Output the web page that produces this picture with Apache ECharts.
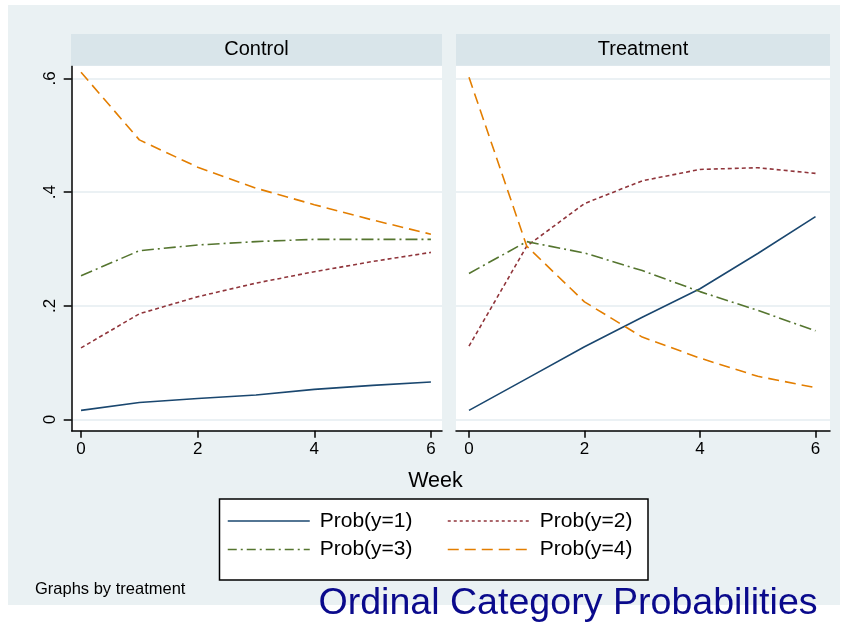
<!DOCTYPE html>
<html><head><meta charset="utf-8">
<script src="https://cdn.jsdelivr.net/npm/echarts@6/dist/echarts.min.js"></script>
<style>html,body{margin:0;padding:0;background:#fff}#c{width:846px;height:629px}</style>
</head><body><div id="c"></div>
<script>
// ---- data ----
const weeks = [0, 1, 2, 3, 4, 5, 6];
const panelTitles = ['Control', 'Treatment'];
const seriesNames = ['Prob(y=1)', 'Prob(y=2)', 'Prob(y=3)', 'Prob(y=4)'];
const controlP1 = [0.016, 0.030, 0.037, 0.043, 0.053, 0.060, 0.066];
const controlP2 = [0.126, 0.186, 0.216, 0.240, 0.260, 0.278, 0.294];
const controlP3 = [0.253, 0.297, 0.307, 0.313, 0.317, 0.317, 0.317];
const controlP4 = [0.611, 0.492, 0.444, 0.407, 0.378, 0.351, 0.326];
const treatP1 = [0.016, 0.072, 0.128, 0.180, 0.230, 0.292, 0.357];
const treatP2 = [0.129, 0.305, 0.380, 0.420, 0.440, 0.443, 0.433];
const treatP3 = [0.257, 0.313, 0.293, 0.262, 0.225, 0.192, 0.156];
const treatP4 = [0.602, 0.305, 0.207, 0.145, 0.108, 0.076, 0.056];
const xTicks = [0, 2, 4, 6];
const yTicks = [0, 0.2, 0.4, 0.6];
const yTickLabels = ['0', '.2', '.4', '.6'];
const xTitle = 'Week';
const noteText = 'Graphs by treatment';
const slideTitle = 'Ordinal Category Probabilities';

// ---- styling ----
const FONT = "'Liberation Sans', Arial, Helvetica, sans-serif";
const colors = ['#1a476f', '#90353b', '#55752f', '#e37e00'];
const dashes = ['solid', [4, 3], [12, 4, 2, 4], [11, 6]];
const legendDashes = ['solid', [3, 3], [9, 4, 2, 4], [11, 6]];
const panelData = [[controlP1, controlP2, controlP3, controlP4], [treatP1, treatP2, treatP3, treatP4]];

const grids = [
  {left: 71.7, top: 65.7, width: 370.3, height: 365},
  {left: 456, top: 65.7, width: 374, height: 365}
];
const xRanges = [[-0.16, 6.19], [-0.225, 6.251]];
const yRange = [-0.0197, 0.6225];

function yFmt(v) {
  for (let i = 0; i < yTicks.length; i++) if (Math.abs(yTicks[i] - v) < 1e-9) return yTickLabels[i];
  return '';
}

const series = [];
panelData.forEach((arr, gi) => {
  arr.forEach((vals, si) => {
    series.push({
      type: 'line', name: seriesNames[si], xAxisIndex: gi, yAxisIndex: gi,
      data: weeks.map((w, i) => [w, vals[i]]),
      symbol: 'none', showSymbol: false, silent: true, z: 3,
      lineStyle: {color: colors[si], width: 1.6, type: dashes[si]},
      itemStyle: {color: colors[si]}
    });
  });
});

const option = {
  animation: false,
  backgroundColor: 'transparent',
  textStyle: {fontFamily: FONT},
  grid: grids.map(g => Object.assign({show: true, backgroundColor: '#ffffff', borderWidth: 0}, g)),
  xAxis: [0, 1].map(gi => ({
    type: 'value', gridIndex: gi, min: xRanges[gi][0], max: xRanges[gi][1],
    axisLine: {show: true, onZero: false, lineStyle: {color: '#000', width: 1.5}},
    axisTick: {show: true, length: 7, customValues: xTicks, lineStyle: {color: '#000', width: 1.5}},
    axisLabel: {show: true, customValues: xTicks, color: '#000', fontSize: 17, margin: 10, fontFamily: FONT,
      formatter: v => String(v)},
    splitLine: {show: false}
  })),
  yAxis: [0, 1].map(gi => ({
    type: 'value', gridIndex: gi, min: yRange[0], max: yRange[1],
    axisLine: {show: gi === 0, onZero: false, lineStyle: {color: '#000', width: 1.5}},
    axisTick: {show: gi === 0, length: 8, customValues: yTicks, lineStyle: {color: '#000', width: 1.5}},
    axisLabel: {show: gi === 0, customValues: yTicks, rotate: 90, color: '#000', fontSize: 17, margin: 13,
      fontFamily: FONT, formatter: yFmt},
    splitLine: {show: true, lineStyle: {color: '#E4EDF0', width: 1.5}}
  })),
  legend: [
    {names: [seriesNames[0], seriesNames[2]], idx: [0, 2], left: 227},
    {names: [seriesNames[1], seriesNames[3]], idx: [1, 3], left: 447}
  ].map(l => ({
    orient: 'vertical', left: l.left, top: 510, padding: 0, itemGap: 6.5,
    itemWidth: 82, itemHeight: 14, selectedMode: false,
    itemStyle: {opacity: 0},
    textStyle: {fontSize: 21, color: '#000', lineHeight: 22, fontFamily: FONT, padding: [0, 0, 0, 5]},
    data: l.names.map((n, k) => ({name: n, lineStyle: {type: legendDashes[l.idx[k]], width: 1.5, color: colors[l.idx[k]]}}))
  })),
  graphic: [
    {type: 'rect', z: -10, silent: true, shape: {x: 8, y: 5, width: 832, height: 600}, style: {fill: '#EAF1F3'}},
    {type: 'rect', z: 1, silent: true, shape: {x: 71, y: 34, width: 371, height: 31.7}, style: {fill: '#D9E5EA'}},
    {type: 'rect', z: 1, silent: true, shape: {x: 456, y: 34, width: 374, height: 31.7}, style: {fill: '#D9E5EA'}},
    {type: 'text', z: 2, silent: true, style: {x: 256.5, y: 49, text: panelTitles[0], fill: '#000', font: '20px ' + FONT, textAlign: 'center', textVerticalAlign: 'middle'}},
    {type: 'text', z: 2, silent: true, style: {x: 643, y: 49, text: panelTitles[1], fill: '#000', font: '20px ' + FONT, textAlign: 'center', textVerticalAlign: 'middle'}},
    {type: 'text', z: 2, silent: true, style: {x: 435.5, y: 481, text: xTitle, fill: '#000', font: '21.5px ' + FONT, textAlign: 'center', textVerticalAlign: 'middle'}},
    {type: 'rect', z: 1, silent: true, shape: {x: 219.5, y: 499, width: 428.5, height: 81}, style: {fill: '#fff', stroke: '#000', lineWidth: 1.5}},
    {type: 'text', z: 2, silent: true, style: {x: 35, y: 589, text: noteText, fill: '#000', font: '16.5px ' + FONT, textAlign: 'left', textVerticalAlign: 'middle'}},
    {type: 'text', z: 2, silent: true, style: {x: 568, y: 604, text: slideTitle, fill: '#0A0A8C', font: '37.6px ' + FONT, textAlign: 'center', textVerticalAlign: 'middle'}}
  ],
  series: series
};

const chart = echarts.init(document.getElementById('c'), null, {renderer: 'canvas'});
chart.setOption(option);
</script>
</body></html>
